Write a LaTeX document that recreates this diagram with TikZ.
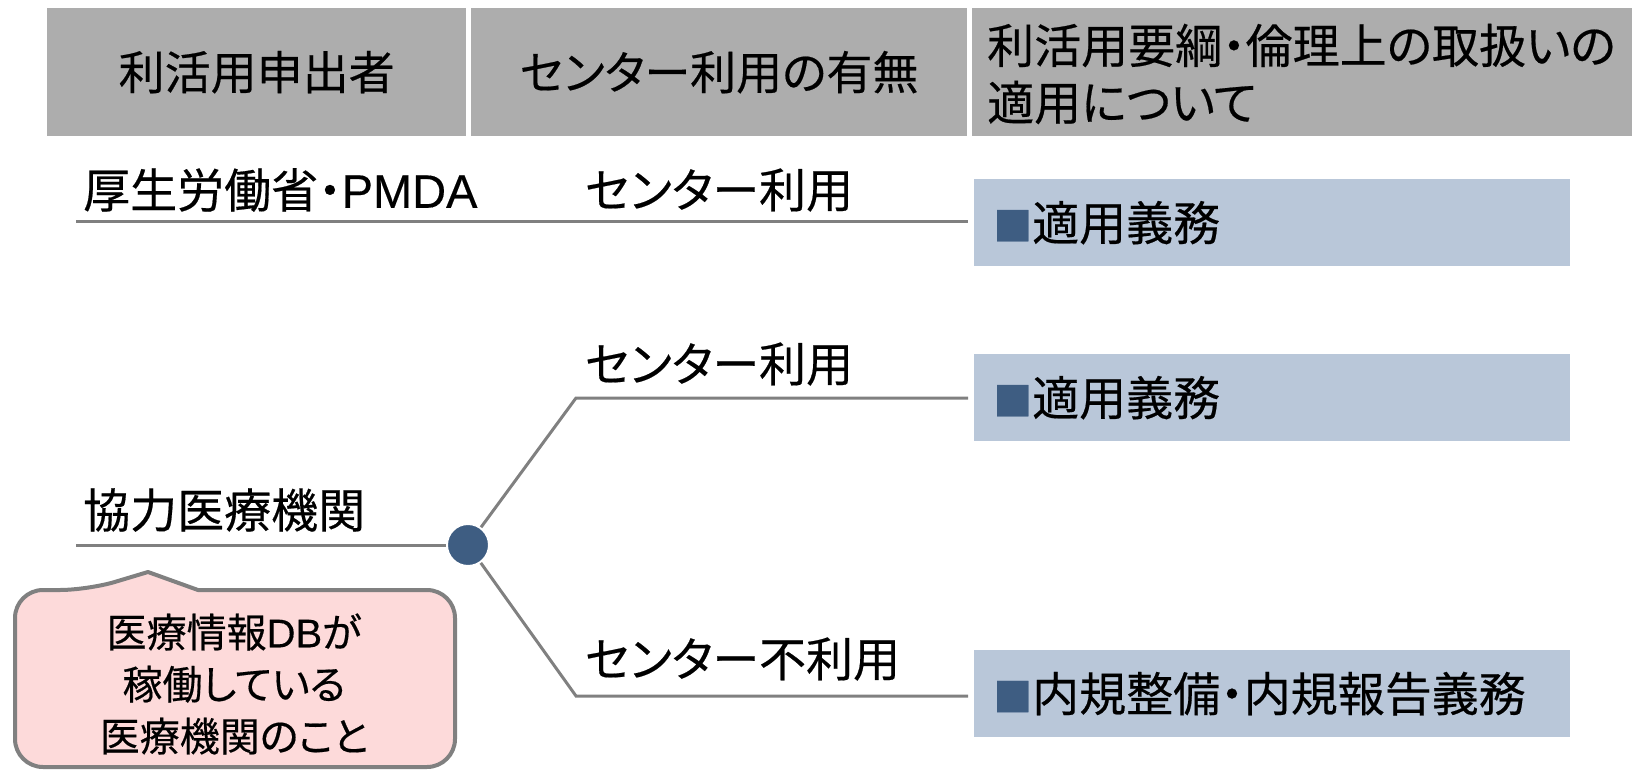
\documentclass[tikz,border=0pt]{standalone}
\usepackage{fontspec}
\newfontfamily\jp[RawFeature=+palt, FakeBold=0.4]{Noto Sans CJK JP}
\newfontfamily\lat[FakeBold=0.3]{Liberation Sans}
\definecolor{hdrgray}{RGB}{173,173,173}
\definecolor{boxblue}{RGB}{185,199,217}
\definecolor{navy}{RGB}{62,93,130}
\definecolor{linegray}{RGB}{128,128,128}
\definecolor{pinkfill}{RGB}{253,218,218}
\newcommand{\sqbullet}{{\color{navy}\fontsize{39}{39}\selectfont ■}}
\begin{document}
\begin{tikzpicture}[x=1pt,y=-1pt,
  every node/.style={font=\jp\fontsize{47}{57}\selectfont, inner sep=0pt, text=black},
  hdr/.style={fill=hdrgray, anchor=north west, minimum height=128pt, font=\jp\fontsize{46}{57}\selectfont},
  txt/.style={anchor=west},
  resbox/.style={fill=boxblue, anchor=north west, text width=596pt, minimum height=87pt, align=left},
  conn/.style={draw=linegray, line width=3pt},
  dotnode/.style={circle, fill=navy, draw=white, line width=2pt, minimum size=42pt},
  callout/.style={draw=linegray, line width=4pt, fill=pinkfill, line join=round},
  notetext/.style={font=\jp\fontsize{40}{52}\selectfont, align=center}
]
\useasboundingbox (0,0) rectangle (1632,770);
% header
\node[hdr, minimum width=419pt] (h1) at (47,8) {利活用申出者};
\node[hdr, minimum width=496pt] (h2) at (471,8) {センター利用の有無};
\node[hdr, minimum width=660pt] (h3) at (972,8) {};
\node[txt, align=left] (h3t) at (987,74) {利活用要綱・倫理上の取扱いの\\適用について};
% row 1
\node[txt] (mhlw) at (83,190) {厚生労働省・{\lat PMDA}};
\node[txt] (c1) at (585,190) {センター利用};
\node[resbox] (r1) at (974,179) {\hspace*{19pt}\sqbullet 適用義務};
\coordinate (l1a) at (76,221);
\coordinate (l1b) at (968,221);
\draw[conn] (l1a) -- (l1b);
% row 2
\node[txt] (kyo) at (83,510) {協力医療機関};
\node[dotnode] (dot) at (468,545) {};
\node[txt] (c2) at (585,364) {センター利用};
\node[txt] (c3) at (585,659) {センター不利用};
\node[resbox] (r2) at (974,354) {\hspace*{19pt}\sqbullet 適用義務};
\node[resbox] (r3) at (974,650) {\hspace*{19pt}\sqbullet 内規整備・内規報告義務};
\coordinate (l2a) at (76,545);
\coordinate (b1) at (576,398);
\coordinate (b1e) at (968,398);
\coordinate (b2) at (576,696);
\coordinate (b2e) at (968,696);
\draw[conn] (l2a) -- (dot);
\draw[conn] (dot) -- (b1) -- (b1e);
\draw[conn] (dot) -- (b2) -- (b2e);
% callout
\draw[callout] (148,572) -- (198,590) [rounded corners=28pt] -- (455,590) -- (455,767) -- (15,767) -- (15,590) -- (88,590) [sharp corners] -- cycle;
\node[notetext] (note) at (234,684) {医療情報{\lat DB}が\\稼働している\\医療機関のこと};
\end{tikzpicture}
\end{document}
